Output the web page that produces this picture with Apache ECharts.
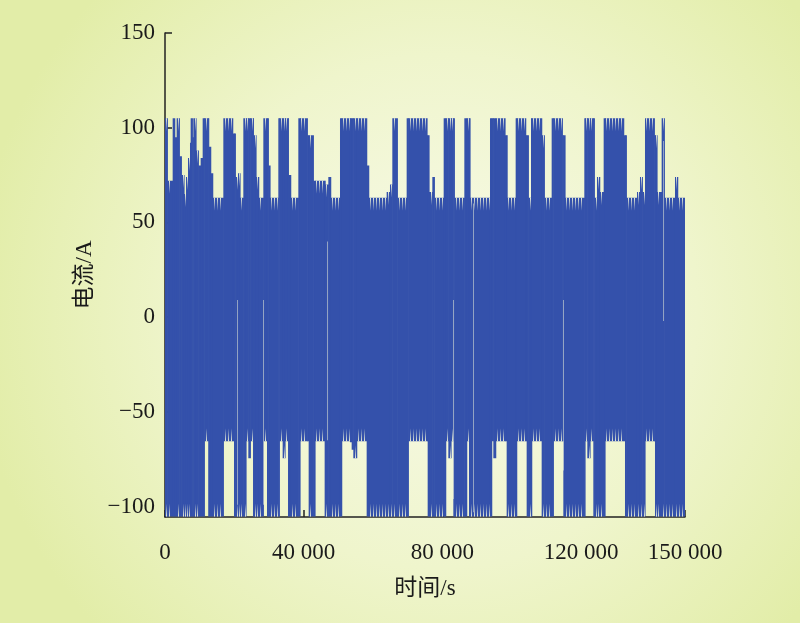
<!DOCTYPE html>
<html>
<head>
<meta charset="utf-8">
<script src="https://cdn.jsdelivr.net/npm/echarts@6/dist/echarts.min.js"></script>
<style>
html,body{margin:0;padding:0;width:800px;height:623px;overflow:hidden;}
#c{width:800px;height:623px;}
</style>
</head>
<body>
<div id="c"></div>
<script>
// ---- data (time in s, current in A) ----
// upper envelope: [start time, peak value] (holds until the next start)
const topRuns = [
  [0,105],[673,72],[2211,105],[2788,95],[3365,105],[4134,85],[4711,75],[5480,65],
  [6057,74],[6634,84],[7211,92],[7404,105],[7884,95],[8173,105],[8942,88],[9615,80],
  [10288,84],[10865,105],[12596,90],[13173,76],[13749,63],[16826,105],[19519,97],
  [20288,74],[21057,76],[21634,63],[22595,105],[25480,96],[26249,74],[27018,63],
  [28364,105],[29807,80],[30287,63],[32691,105],[35576,75],[36249,63],[38460,105],
  [41056,96],[42787,72],[46152,70],[47114,74],[47787,63],[50479,105],[58171,80],
  [58748,63],[63940,66],[64901,70],[65574,105],[67016,63],[69709,105],[75577,96],
  [76154,66],[77115,74],[77692,63],[80384,105],[83461,63],[86346,105],[87980,63],
  [93749,105],[98076,96],[98653,63],[101153,105],[104037,96],[104807,63],[105576,105],
  [108653,96],[109422,63],[111537,105],[114614,96],[115383,63],[120960,105],[123844,63],
  [124613,74],[125383,66],[126536,105],[132305,96],[133075,63],[136152,66],[137017,74],
  [137690,66],[138459,105],[141151,96],[141921,66],[143267,105],[144036,63],[147113,74],
  [147882,63]
];
// lower envelope: [start time, trough value]
const bottomRuns = [
  [0,-105.3],[11346,-65.5],[12500,-105.3],[16826,-65.5],[19903,-105.3],[23365,-65.5],
  [24038,-74.5],[24614,-65.5],[25384,-105.3],[28364,-65.5],[29422,-105.3],[32979,-65.5],
  [33941,-74.5],[34614,-65.5],[35480,-105.3],[38941,-65.5],[41441,-105.3],[43268,-65.5],
  [46056,-105.3],[50960,-65.5],[53364,-66],[53845,-70],[54325,-74.5],[55287,-65.5],
  [58171,-105.3],[70190,-65.5],[75769,-105.3],[80961,-65.5],[81731,-74.5],[82500,-65.5],
  [83173,-105.3],[87019,-65.5],[87692,-105.3],[94230,-65.5],[94711,-74.5],[95384,-65.5],
  [98557,-105.3],[101442,-65.5],[104326,-105.3],[105769,-65.5],[108653,-105.3],
  [112019,-65.5],[114903,-105.3],[121152,-65.5],[121825,-74.5],[122595,-65.5],
  [123556,-105.3],[126921,-65.5],[132690,-105.3],[138459,-65.5],[141344,-105.3]
];
const endTime = 150000;
// thin light gaps through the filled trace: time, upper value, lower value
const gapTimes = [20769, 28269, 46731, 83077, 88846, 114808, 143653];
const gapTops  = [9, 9, 40, 9, 60, 9, 93];
const gapBots  = [-99, -99, -65, -96, -103, -81, -2];
// axis ticks
const xTicks = [0, 40000, 80000, 120000, 150000];
const yTicks = [-100, -50, 0, 50, 100, 150];

// ---- build segments ----
function valAt(runs, t) {
  let v = runs[0][1];
  for (const r of runs) { if (r[0] <= t) v = r[1]; else break; }
  return v;
}
const breaks = Array.from(new Set(topRuns.map(r => r[0]).concat(bottomRuns.map(r => r[0])))).sort((a, b) => a - b);
const segments = [];
for (let i = 0; i < breaks.length; i++) {
  const t0 = breaks[i], t1 = i + 1 < breaks.length ? breaks[i + 1] : endTime;
  segments.push([t0, t1, valAt(topRuns, t0), valAt(bottomRuns, t0)]);
}
const gaps = gapTimes.map((t, i) => [t, gapTops[i], gapBots[i]]);

const BLUE = '#3451ab';
const chart = echarts.init(document.getElementById('c'), null, {renderer: 'canvas'});
const combTop = new echarts.graphic.LinearGradient(0, 0, 0, 1, [
  {offset: 0, color: 'rgba(242,246,218,0.95)'}, {offset: 1, color: 'rgba(242,246,218,0)'}]);
const combBot = new echarts.graphic.LinearGradient(0, 0, 0, 1, [
  {offset: 0, color: 'rgba(242,246,218,0)'}, {offset: 1, color: 'rgba(242,246,218,0.95)'}]);

const serif = "'Liberation Serif','Times New Roman','Noto Sans CJK SC',serif";
const option = {
  animation: false,
  backgroundColor: {
    type: 'radial', x: 0.55, y: 0.5, r: 0.75,
    colorStops: [{offset: 0, color: '#f8faea'}, {offset: 0.55, color: '#eff5cc'}, {offset: 1, color: '#e2eda8'}]
  },
  grid: {left: 165, right: 115, top: 33, bottom: 106, containLabel: false},
  xAxis: {
    type: 'value', min: 0, max: endTime,
    name: '时间/s', nameLocation: 'middle', nameGap: 60,
    nameTextStyle: {fontFamily: serif, fontSize: 23, color: '#1a1a1a'},
    axisLine: {show: true, onZero: false, lineStyle: {color: '#222', width: 1.5}},
    axisTick: {show: true, inside: true, length: 7, customValues: xTicks, lineStyle: {color: '#222', width: 1.5}},
    axisLabel: {
      customValues: xTicks, margin: 24, fontFamily: serif, fontSize: 23, color: '#1a1a1a',
      formatter: v => String(v).replace(/\B(?=(\d{3})+(?!\d))/g, ' ')
    },
    splitLine: {show: false}
  },
  yAxis: {
    type: 'value', min: -105.5, max: 150,
    name: '电流/A', nameLocation: 'middle', nameGap: 63, nameRotate: 90,
    nameTextStyle: {fontFamily: serif, fontSize: 23, color: '#1a1a1a'},
    axisLine: {show: true, onZero: false, lineStyle: {color: '#222', width: 1.5}},
    axisTick: {show: true, inside: true, length: 7, customValues: yTicks, lineStyle: {color: '#222', width: 1.5}},
    axisLabel: {
      customValues: yTicks, margin: 10, fontFamily: serif, fontSize: 23, color: '#1a1a1a',
      formatter: v => String(v).replace('-', '\u2212')
    },
    splitLine: {show: false}
  },
  series: [
    {
      type: 'custom',
      data: segments,
      encode: {x: [0, 1], y: [2, 3]},
      clip: true,
      renderItem: function (params, api) {
        const a = api.coord([api.value(0), api.value(2)]);
        const b = api.coord([api.value(1), api.value(3)]);
        const x0 = a[0], x1 = b[0] + 0.6, y0 = a[1], y1 = b[1];
        const children = [{type: 'rect', shape: {x: x0, y: y0, width: x1 - x0, height: y1 - y0}, style: {fill: BLUE}}];
        for (let x = Math.ceil(x0) + 1; x < x1 - 1.5; x += 3) {
          children.push({type: 'rect', shape: {x: x, y: y0, width: 1, height: 13}, style: {fill: combTop}});
          children.push({type: 'rect', shape: {x: x, y: y1 - 13, width: 1, height: 13}, style: {fill: combBot}});
        }
        return {type: 'group', children: children};
      }
    },
    {
      type: 'custom',
      data: gaps,
      encode: {x: 0, y: [1, 2]},
      renderItem: function (params, api) {
        const a = api.coord([api.value(0), api.value(1)]);
        const b = api.coord([api.value(0), api.value(2)]);
        return {type: 'rect', shape: {x: a[0], y: a[1], width: 1, height: b[1] - a[1]},
          style: {fill: 'rgba(225,232,215,0.55)'}};
      }
    }
  ]
};
chart.setOption(option);
</script>
</body>
</html>
